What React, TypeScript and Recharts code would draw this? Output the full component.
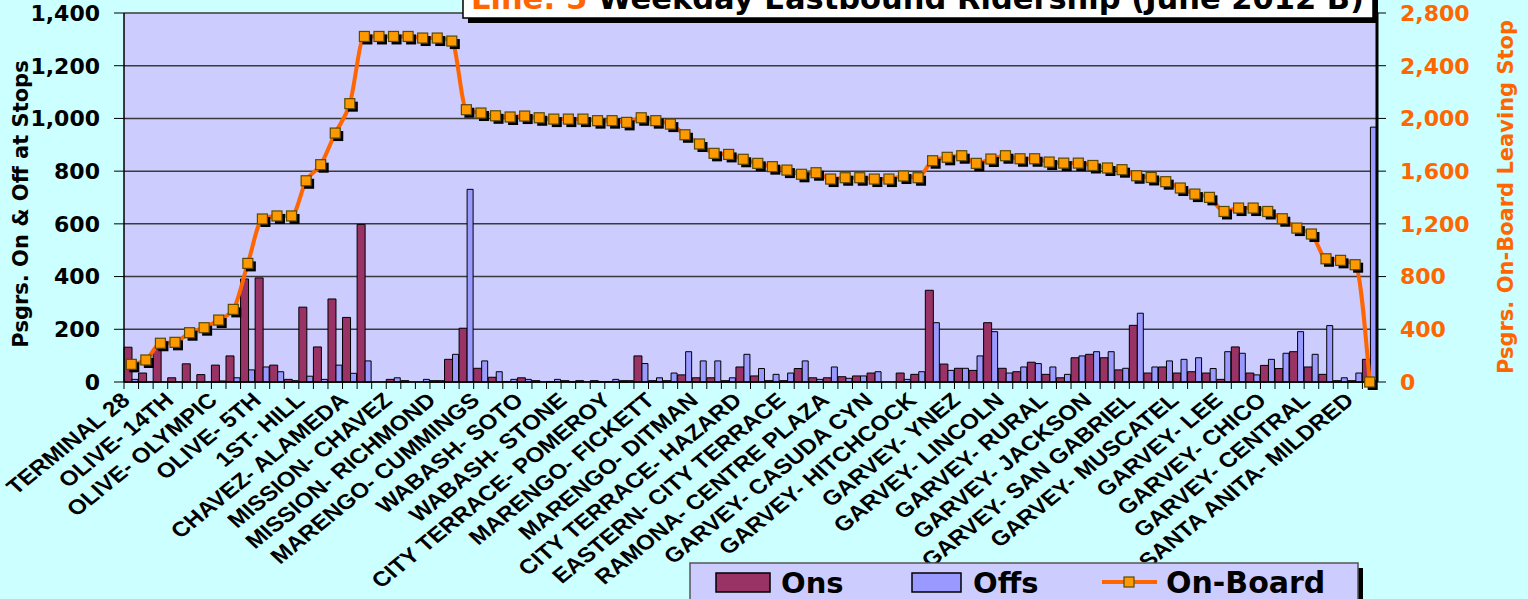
import React from 'react';
import { ComposedChart, Bar, Line, XAxis, YAxis, CartesianGrid } from 'recharts';

// one label every third stop, as in the source chart
const tickLabels = [
  'TERMINAL 28', 'OLIVE- 14TH', 'OLIVE- OLYMPIC', 'OLIVE- 5TH', '1ST- HILL',
  'CHAVEZ- ALAMEDA', 'MISSION- CHAVEZ', 'MISSION- RICHMOND', 'MARENGO- CUMMINGS',
  'WABASH- SOTO', 'WABASH- STONE', 'CITY TERRACE- POMEROY', 'MARENGO- FICKETT',
  'MARENGO- DITMAN', 'CITY TERRACE- HAZARD', 'EASTERN- CITY TERRACE',
  'RAMONA- CENTRE PLAZA', 'GARVEY- CASUDA CYN', 'GARVEY- HITCHCOCK', 'GARVEY- YNEZ',
  'GARVEY- LINCOLN', 'GARVEY- RURAL', 'GARVEY- JACKSON', 'GARVEY- SAN GABRIEL',
  'GARVEY- MUSCATEL', 'GARVEY- LEE', 'GARVEY- CHICO', 'GARVEY- CENTRAL',
  'SANTA ANITA- MILDRED',
];

const ons = [
  132, 34, 124, 16, 69, 28, 64, 99, 391, 395,
  64, 10, 284, 133, 315, 245, 598, 0, 10, 5,
  0, 5, 86, 204, 52, 18, 2, 16, 5, 2,
  5, 5, 5, 2, 5, 99, 5, 5, 27, 16,
  16, 5, 57, 23, 5, 5, 51, 16, 16, 20,
  23, 34, 0, 34, 29, 348, 68, 52, 44, 225,
  52, 39, 75, 29, 16, 92, 105, 92, 46, 215,
  34, 57, 34, 39, 34, 10, 133, 34, 63, 51,
  115, 57, 29, 5, 5, 86,
];

const offs = [
  10, 0, 0, 0, 0, 0, 4, 16, 46, 57,
  39, 5, 22, 10, 64, 33, 80, 0, 16, 0,
  10, 5, 105, 731, 80, 39, 10, 10, 0, 10,
  2, 0, 2, 10, 5, 70, 16, 34, 115, 80,
  80, 16, 105, 51, 29, 34, 80, 10, 57, 14,
  23, 39, 0, 10, 39, 225, 44, 52, 99, 191,
  34, 57, 70, 57, 29, 99, 115, 115, 52, 261,
  57, 80, 86, 92, 51, 115, 109, 27, 86, 109,
  191, 105, 214, 16, 34, 967,
];

const onBoard = [
  134, 167, 294, 301, 374, 412, 470, 551, 900, 1237,
  1260, 1260, 1527, 1649, 1889, 2112, 2622, 2622, 2622, 2622,
  2610, 2610, 2587, 2066, 2041, 2020, 2011, 2018, 2005, 1995,
  1995, 1995, 1983, 1983, 1970, 2005, 1983, 1957, 1876, 1806,
  1735, 1727, 1690, 1659, 1634, 1608, 1576, 1588, 1540, 1550,
  1550, 1540, 1540, 1563, 1550, 1679, 1705, 1717, 1659, 1692,
  1717, 1694, 1694, 1669, 1661, 1661, 1643, 1624, 1611, 1565,
  1552, 1520, 1472, 1426, 1401, 1294, 1320, 1320, 1294, 1239,
  1168, 1123, 935, 923, 890, 0,
];

const leftTicks = [0, 200, 400, 600, 800, 1000, 1200, 1400];
const rightTicks = [0, 400, 800, 1200, 1600, 2000, 2400, 2800];

const W = 1528;
const H = 599;
const PLOT_LEFT = 124;
const PLOT_RIGHT = 1377;
const BAND = (PLOT_RIGHT - PLOT_LEFT) / ons.length;

const FONT = '"DejaVu Sans", Verdana, sans-serif';
const ARIAL = 'Arial, "Liberation Sans", sans-serif';
const ORANGE = '#ff6600';

const data = ons.map((v, i) => ({
  stop: i % 3 === 0 ? tickLabels[i / 3] : `stop ${i + 1}`,
  ons: v,
  offs: offs[i],
  onBoard: onBoard[i],
}));

const fmt = (v: number) => v.toLocaleString('en-US');

const CategoryTick = ({ x, y, index }: any) => {
  const label = index % 3 === 0 ? tickLabels[index / 3] : null;
  return (
    <g>
      <line x1={x - BAND / 2} x2={x - BAND / 2} y1={y} y2={y + 7} stroke="#000" strokeWidth={1} />
      {label && (
        <text
          transform={`translate(${x},${y + 20}) scale(1.15,1) rotate(-43)`}
          textAnchor="end"
          fontFamily={ARIAL}
          fontWeight={700}
          fontSize={21}
          fill="#000"
        >
          {label}
        </text>
      )}
    </g>
  );
};

const SquareDot = (props: any) => {
  const { cx, cy, index } = props;
  if (cx == null || cy == null) return null;
  return (
    <g key={`dot-${index}`}>
      <rect x={cx - 2} y={cy - 2} width={10} height={10} fill="#000" />
      <rect x={cx - 5} y={cy - 5} width={10} height={10} fill="#ff9900" stroke="#5a4a00" strokeWidth={1.2} />
    </g>
  );
};

export default function App() {
  return (
    <div
      style={{
        position: 'fixed',
        left: 0,
        top: 0,
        width: W,
        height: H,
        background: '#ccffff',
        overflow: 'hidden',
      }}
    >
      <ComposedChart
        width={W}
        height={H}
        data={data}
        margin={{ top: 13, right: 0, bottom: 0, left: 0 }}
        barGap={0}
        barCategoryGap={1}
      >
        <CartesianGrid yAxisId="left" vertical={false} fill="#ccccff" stroke="#3a3a3a" strokeWidth={1.5} />
        <XAxis
          dataKey="stop"
          height={217}
          interval={0}
          tickLine={false}
          tickSize={0}
          tickMargin={0}
          axisLine={{ stroke: '#000', strokeWidth: 1.5 }}
          tick={<CategoryTick />}
        />
        <YAxis
          yAxisId="left"
          width={124}
          domain={[0, 1400]}
          ticks={leftTicks}
          tickFormatter={fmt}
          tickSize={10}
          tickMargin={14}
          axisLine={{ stroke: '#000', strokeWidth: 1.5 }}
          tickLine={{ stroke: '#000' }}
          tick={{ fill: '#000', fontFamily: FONT, fontWeight: 700, fontSize: 22 }}
        />
        <YAxis
          yAxisId="right"
          orientation="right"
          width={151}
          domain={[0, 2800]}
          ticks={rightTicks}
          tickFormatter={fmt}
          tickSize={9}
          tickMargin={14}
          axisLine={{ stroke: '#000', strokeWidth: 3 }}
          tickLine={{ stroke: '#000' }}
          tick={{ fill: ORANGE, fontFamily: FONT, fontWeight: 700, fontSize: 22 }}
        />
        <Bar yAxisId="left" dataKey="ons" barSize={8} fill="#993366" stroke="#000" strokeWidth={1} isAnimationActive={false} />
        <Bar yAxisId="left" dataKey="offs" barSize={6} fill="#9999ff" stroke="#000" strokeWidth={1} isAnimationActive={false} />
        <Line
          yAxisId="right"
          dataKey="onBoard"
          type="monotone"
          stroke={ORANGE}
          strokeWidth={4}
          dot={<SquareDot />}
          activeDot={false}
          isAnimationActive={false}
        />
      </ComposedChart>

      <svg width={W} height={H} style={{ position: 'absolute', left: 0, top: 0, pointerEvents: 'none' }}>
        {/* title, cut off by the top of the picture */}
        <rect x={468} y={-12} width={910} height={35} fill="#000" />
        <rect x={463} y={-17} width={910} height={35} fill="#fff" stroke="#000" strokeWidth={1.5} />
        <text x={471} y={9} fontFamily={FONT} fontWeight={700} fontSize={30.5}>
          <tspan fill={ORANGE}>Line: 5 </tspan>
          <tspan fill="#000">Weekday Eastbound Ridership (June 2012 B)</tspan>
        </text>

        {/* axis titles */}
        <text transform="translate(28,204) rotate(-90)" textAnchor="middle" fontFamily={FONT} fontWeight={700} fontSize={21} fill="#000">
          Psgrs. On &amp; Off at Stops
        </text>
        <text transform="translate(1513,197) rotate(-90)" textAnchor="middle" fontFamily={FONT} fontWeight={700} fontSize={21} fill={ORANGE}>
          Psgrs. On-Board Leaving Stop
        </text>

        {/* legend */}
        <rect x={695} y={568} width={668} height={45} fill="#000" />
        <rect x={690} y={563} width={668} height={45} fill="#ccccff" stroke="#555" strokeWidth={1.5} />
        <rect x={716} y={573} width={54} height={19} fill="#993366" stroke="#000" strokeWidth={1.5} />
        <text x={781} y={593} fontFamily={FONT} fontWeight={700} fontSize={29} fill="#000">Ons</text>
        <rect x={912} y={573} width={49} height={19} fill="#9999ff" stroke="#000" strokeWidth={1.5} />
        <text x={973} y={593} fontFamily={FONT} fontWeight={700} fontSize={29} fill="#000">Offs</text>
        <line x1={1102} x2={1157} y1={582} y2={582} stroke={ORANGE} strokeWidth={4} />
        <rect x={1124} y={577} width={10} height={10} fill="#ff9900" stroke="#5a4a00" strokeWidth={1.2} />
        <text x={1166} y={593} fontFamily={FONT} fontWeight={700} fontSize={30} fill="#000">On-Board</text>
      </svg>
    </div>
  );
}
